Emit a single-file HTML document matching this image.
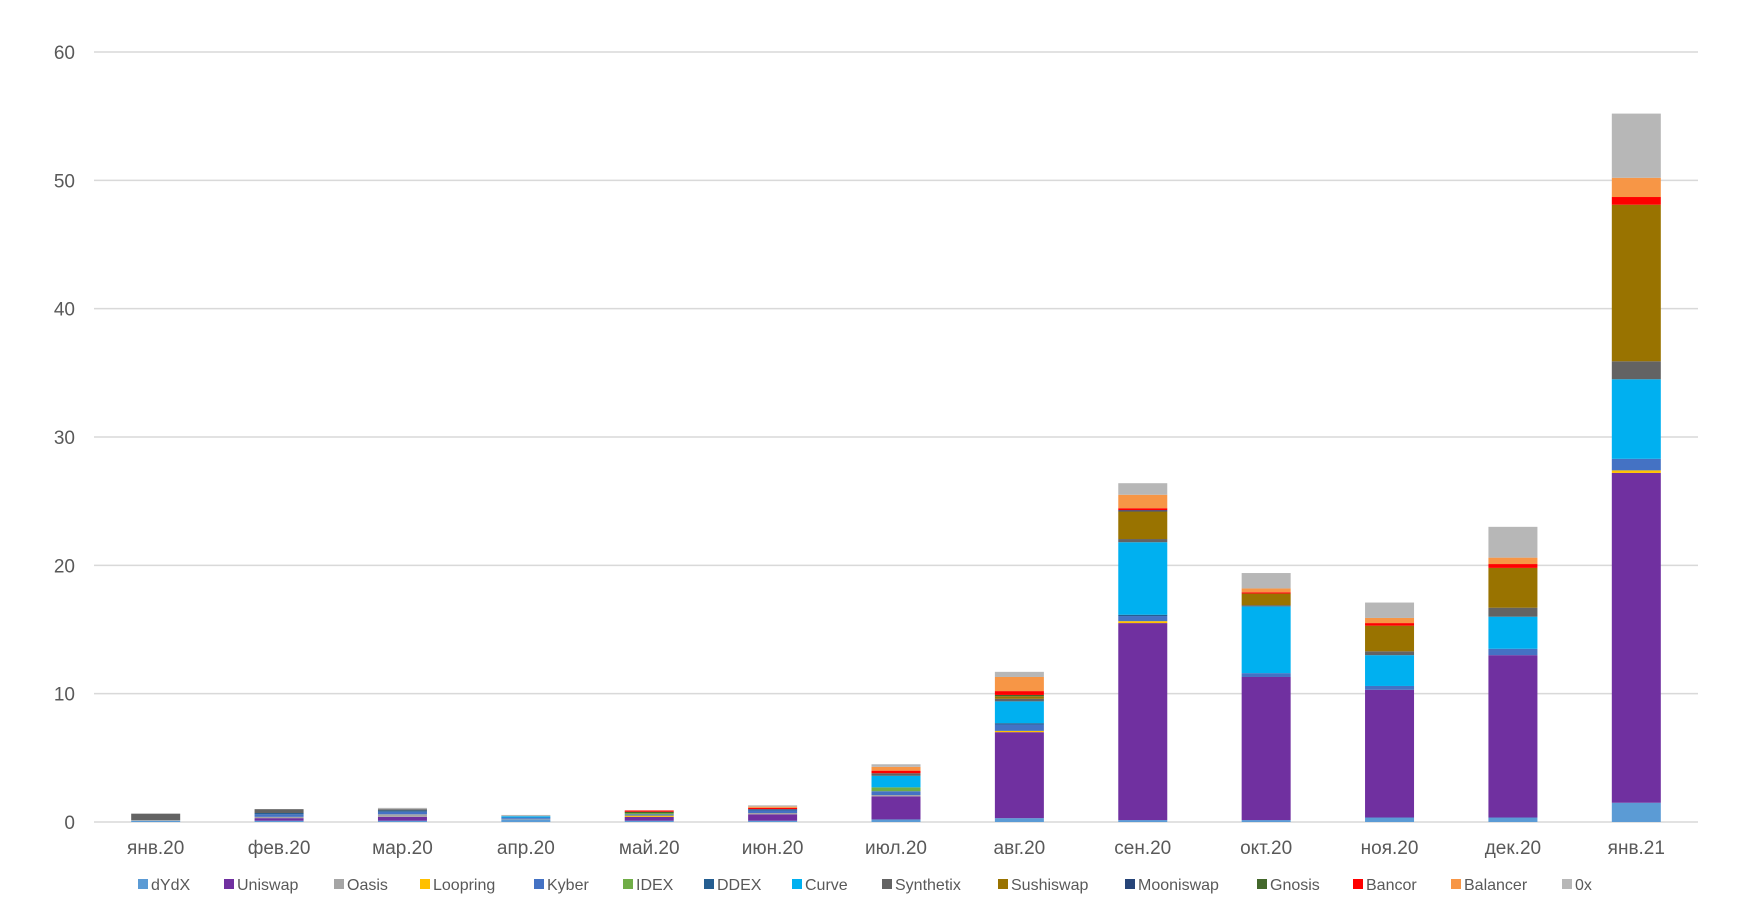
<!DOCTYPE html>
<html><head><meta charset="utf-8"><style>
html,body{margin:0;padding:0;background:#fff;width:1762px;height:912px;overflow:hidden;font-family:"Liberation Sans",sans-serif;}
svg text{font-family:"Liberation Sans",sans-serif;fill:#595959;}
</style></head><body>
<svg id="chart" width="1762" height="912" xmlns="http://www.w3.org/2000/svg">
<g id="grid"></g>
<g id="yaxis"></g>
<g id="bars"></g>
<g id="xaxis"></g>
<g id="legend"></g>
</svg>
<script>
const categories=["янв.20","фев.20","мар.20","апр.20","май.20","июн.20","июл.20","авг.20","сен.20","окт.20","ноя.20","дек.20","янв.21"];
const seriesNames=["dYdX","Uniswap","Oasis","Loopring","Kyber","IDEX","DDEX","Curve","Synthetix","Sushiswap","Mooniswap","Gnosis","Bancor","Balancer","0x"];
const seriesColors=["#5B9BD5","#7030A0","#A5A5A5","#FFC000","#4472C4","#70AD47","#255E91","#00B0F0","#636363","#997300","#264478","#43682B","#FF0000","#F79646","#B7B7B7"];
const dYdX=[0.1,0.1,0.1,0.2,0.1,0.1,0.2,0.3,0.15,0.15,0.35,0.35,1.5];
const Uniswap=[0,0.2,0.3,0,0.3,0.5,1.8,6.7,15.35,11.15,9.95,12.65,25.7];
const Oasis=[0.05,0.1,0.2,0.05,0,0.1,0.1,0,0,0,0,0,0];
const Loopring=[0,0,0,0,0.1,0,0,0.1,0.15,0,0,0,0.2];
const Kyber=[0,0.2,0.2,0.1,0.1,0.2,0.3,0.5,0.4,0.3,0.3,0.5,0.9];
const IDEX=[0,0,0,0,0.1,0,0.3,0,0,0,0,0,0];
const DDEX=[0,0.1,0.1,0,0,0.1,0,0.1,0.1,0,0,0,0];
const Curve=[0,0,0,0.1,0,0,0.9,1.7,5.65,5.2,2.4,2.5,6.2];
const Synthetix=[0.5,0.3,0.1,0,0,0,0.2,0.2,0.25,0.1,0.3,0.7,1.4];
const Sushiswap=[0,0,0,0,0,0,0,0.2,2.15,0.9,2.0,3.1,12.2];
const Mooniswap=[0,0,0,0,0,0,0,0,0.1,0,0,0,0];
const Gnosis=[0,0,0,0,0.1,0,0,0.1,0,0,0,0,0];
const Bancor=[0,0,0,0,0.1,0.1,0.2,0.3,0.15,0.1,0.2,0.3,0.6];
const Balancer=[0,0,0,0,0,0.1,0.3,1.1,1.05,0.3,0.4,0.5,1.5];
const Ox=[0,0,0.1,0.1,0,0.1,0.2,0.4,0.9,1.2,1.2,2.4,5.0];
const seriesValues=[dYdX,Uniswap,Oasis,Loopring,Kyber,IDEX,DDEX,Curve,Synthetix,Sushiswap,Mooniswap,Gnosis,Bancor,Balancer,Ox];
const yTicks=[0,10,20,30,40,50,60];

const NS="http://www.w3.org/2000/svg";
const X0=94,X1=1698,Y0=822,YMAX=60,YTOP=52,BW=49;
const band=(X1-X0)/categories.length;
function xc(i){return X0+band*(i+0.5);}
function y(v){return Y0-(v/YMAX)*(Y0-YTOP);}
function mk(t,a,p){const e=document.createElementNS(NS,t);for(const k in a)e.setAttribute(k,a[k]);p.appendChild(e);return e;}

const grid=document.getElementById('grid'),yax=document.getElementById('yaxis');
yTicks.forEach(t=>{
  const l=mk('line',{x1:X0,x2:X1,y1:y(t),y2:y(t),stroke:'#D9D9D9','stroke-width':1.5},grid);
  
  
  const tx=mk('text',{x:75,y:y(t)+7,'text-anchor':'end','font-size':19},yax);
  tx.textContent=t;
  
  
});
const bars=document.getElementById('bars'),xax=document.getElementById('xaxis');
categories.forEach((c,i)=>{
  let acc=0;
  seriesValues.forEach((s,k)=>{
    const v=s[i];if(!v)return;
    const r=mk('rect',{x:xc(i)-BW/2,y:y(acc+v),width:BW,height:y(acc)-y(acc+v),fill:seriesColors[k]},bars);
    
    
    acc+=v;
  });
  const tx=mk('text',{x:xc(i),y:854,'text-anchor':'middle','font-size':19},xax);
  tx.textContent=c;
  
  
});
const legX=[138,224,334,420,534,623,704,792,882,998,1125,1257,1353,1451,1562];
const leg=document.getElementById('legend');
seriesNames.forEach((n,k)=>{
  const g=mk('g',{},leg);
  
  
  mk('rect',{x:legX[k],y:879,width:10,height:10,fill:seriesColors[k]},g);
  const t=mk('text',{x:legX[k]+13,y:890,'font-size':16},g);
  t.textContent=n;
});
</script>
</body></html>
